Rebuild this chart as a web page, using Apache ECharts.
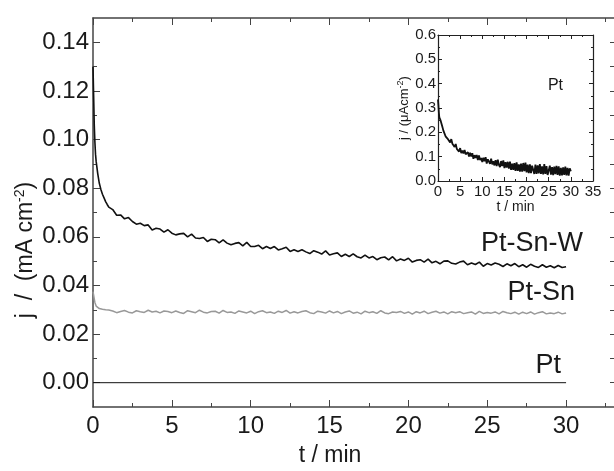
<!DOCTYPE html>
<html>
<head>
<meta charset="utf-8">
<script src="https://cdn.jsdelivr.net/npm/echarts@6/dist/echarts.min.js"></script>
<style>
html,body{margin:0;padding:0;background:#fff;}
#chart{width:614px;height:471px;}
</style>
</head>
<body>
<div id="chart"></div>
<script>
// ---------- data ----------
var tEarly = [0,0.04,0.08,0.12,0.16,0.2,0.3,0.4,0.5,0.6,0.7,0.8,0.9,1.0];
var tLate = [1.25,1.5,1.75,2,2.25,2.5,2.75,3,3.25,3.5,3.75,4,4.25,4.5,4.75,5,
  5.25,5.5,5.75,6,6.25,6.5,6.75,7,7.25,7.5,7.75,8,8.25,8.5,8.75,9,
  9.25,9.5,9.75,10,10.25,10.5,10.75,11,11.25,11.5,11.75,12,12.25,12.5,12.75,13,
  13.25,13.5,13.75,14,14.25,14.5,14.75,15,15.25,15.5,15.75,16,16.25,16.5,16.75,17,
  17.25,17.5,17.75,18,18.25,18.5,18.75,19,19.25,19.5,19.75,20,20.25,20.5,20.75,21,
  21.25,21.5,21.75,22,22.25,22.5,22.75,23,23.25,23.5,23.75,24,24.25,24.5,24.75,25,
  25.25,25.5,25.75,26,26.25,26.5,26.75,27,27.25,27.5,27.75,28,28.25,28.5,28.75,29,
  29.25,29.5,29.75,30];

var jPtSnW_early = [0.130,0.118,0.106,0.099,0.094,0.091,0.086,0.082,0.0795,0.0775,0.076,0.0745,0.0733,0.0722];
var jPtSnW_late = [
  0.0712,0.0689,0.0690,0.0674,0.0679,0.0663,0.0652,0.0656,
  0.0646,0.0649,0.0628,0.0635,0.0632,0.0619,0.0629,0.0615,
  0.0608,0.0612,0.0614,0.0600,0.0611,0.0595,0.0593,0.0597,
  0.0581,0.0590,0.0588,0.0575,0.0587,0.0574,0.0567,0.0573,
  0.0576,0.0563,0.0577,0.0560,0.0560,0.0565,0.0551,0.0560,
  0.0552,0.0560,0.0546,0.0551,0.0557,0.0540,0.0547,0.0540,
  0.0547,0.0538,0.0531,0.0543,0.0537,0.0529,0.0542,0.0525,
  0.0530,0.0534,0.0519,0.0528,0.0519,0.0530,0.0518,0.0513,
  0.0525,0.0513,0.0519,0.0506,0.0514,0.0517,0.0505,0.0518,
  0.0501,0.0509,0.0503,0.0512,0.0496,0.0503,0.0506,0.0496,
  0.0508,0.0493,0.0499,0.0489,0.0500,0.0501,0.0491,0.0488,
  0.0496,0.0500,0.0485,0.0492,0.0486,0.0496,0.0479,0.0490,
  0.0484,0.0492,0.0487,0.0478,0.0489,0.0481,0.0490,0.0477,
  0.0485,0.0475,0.0487,0.0479,0.0474,0.0485,0.0475,0.0481,
  0.0473,0.0482,0.0474,0.0477];

var jPtSn_early = [0.0375,0.036,0.0345,0.033,0.0322,0.0315,0.031,0.0305,0.0312,0.0302,0.0298,0.030,0.0296,0.0299];
var jPtSn_late = [
  0.0295,0.0288,0.0293,0.0297,0.0290,0.0287,0.0296,0.0292,
  0.0289,0.0298,0.0291,0.0294,0.0287,0.0295,0.0293,0.0288,
  0.0295,0.0289,0.0285,0.0296,0.0292,0.0288,0.0298,0.0290,
  0.0287,0.0293,0.0294,0.0286,0.0297,0.0289,0.0291,0.0285,
  0.0295,0.0291,0.0287,0.0294,0.0284,0.0292,0.0296,0.0288,
  0.0291,0.0285,0.0294,0.0289,0.0297,0.0286,0.0292,0.0287,
  0.0293,0.0296,0.0288,0.0284,0.0294,0.0291,0.0286,0.0295,
  0.0287,0.0293,0.0284,0.0291,0.0295,0.0286,0.0290,0.0283,
  0.0294,0.0288,0.0292,0.0285,0.0296,0.0287,0.0284,0.0291,
  0.0289,0.0293,0.0285,0.0291,0.0282,0.0292,0.0287,0.0294,
  0.0284,0.0290,0.0294,0.0286,0.0291,0.0283,0.0292,0.0288,
  0.0292,0.0284,0.0288,0.0291,0.0282,0.0293,0.0285,0.0289,
  0.0286,0.0291,0.0283,0.0293,0.0288,0.0284,0.0290,0.0282,
  0.0290,0.0284,0.0291,0.0282,0.0288,0.0292,0.0283,0.0287,
  0.0284,0.0290,0.0283,0.0287];

var tPt = [0,30];
var jPt = [0,0];

// inset (Pt, µA cm^-2)
var tInset = [0,0.1,0.2,0.3,0.4,0.6,0.8,1.0,1.2,
  1.5,1.75,2,2.25,2.5,2.75,3,3.25,3.5,3.75,4,4.25,4.5,4.75,5,5.25,5.5,5.75,
  6,6.25,6.5,6.75,7,7.25,7.5,7.75,8,8.25,8.5,8.75,9,9.25,9.5,9.75,
  10,10.25,10.5,10.75,11,11.25,11.5,11.75,12,12.25,12.5,12.75,13,13.25,13.5,13.75,
  14,14.25,14.5,14.75,15,15.25,15.5,15.75,16,16.25,16.5,16.75,17,17.25,17.5,17.75,
  18,18.25,18.5,18.75,19,19.25,19.5,19.75,20,20.25,20.5,20.75,21,21.25,21.5,21.75,
  22,22.25,22.5,22.75,23,23.25,23.5,23.75,24,24.25,24.5,24.75,25,25.25,25.5,25.75,
  26,26.25,26.5,26.75,27,27.25,27.5,27.75,28,28.25,28.5,28.75,29,29.25,29.5,29.75,30];
var jInset = [0.335,0.31,0.28,0.262,0.265,0.248,0.252,0.222,0.208,
  0.201,0.182,
  0.190,0.172,0.175,0.158,
  0.172,0.153,0.158,0.140,
  0.152,0.132,0.139,0.121,
  0.135,0.115,0.125,0.113,
  0.127,0.110,0.104,0.118,
  0.101,0.116,0.101,0.114,
  0.091,0.106,0.095,0.107,
  0.086,0.105,0.086,0.095,
  0.078,0.096,0.081,0.098,
  0.072,0.089,0.091,0.071,
  0.092,0.068,0.081,0.064,
  0.086,0.061,0.088,0.066,
  0.057,0.082,0.061,0.085,
  0.053,0.077,0.055,0.079,
  0.051,0.080,0.046,0.071,
  0.046,0.073,0.042,0.077,
  0.042,0.068,0.039,0.071,
  0.039,0.074,0.041,0.076,
  0.035,0.067,0.032,0.068,
  0.032,0.063,0.067,0.029,
  0.067,0.029,0.064,0.031,
  0.069,0.029,0.060,0.027,
  0.069,0.029,0.061,0.025,
  0.029,0.063,0.026,0.057,
  0.024,0.059,0.028,0.062,
  0.025,0.060,0.022,0.054,
  0.023,0.056,0.025,0.059,
  0.023,0.054,0.022,0.052,
  0.040];

var mainYLabels = [0,0.02,0.04,0.06,0.08,0.10,0.12,0.14];
var mainYMinor = [0.01,0.03,0.05,0.07,0.09,0.11,0.13];
var mainYAll = [0,0.01,0.02,0.03,0.04,0.05,0.06,0.07,0.08,0.09,0.10,0.11,0.12,0.13,0.14];

function pairs(ts, vs){ var o=[]; for(var i=0;i<ts.length;i++) o.push([ts[i], vs[i]]); return o; }

// ---------- chart ----------
var chart = echarts.init(document.getElementById('chart'), null, {renderer:'canvas'});
var FONT = 'Liberation Sans, Arial, sans-serif';
var AX = '#444';
var XMAX = 33.23;

var option = {
  animation: false,
  backgroundColor: '#fff',
  grid: [
    {left: 93, top: 18, width: 524, height: 389, outerBoundsMode: 'none', containLabel: false},
    {left: 438, top: 35, width: 155, height: 146, outerBoundsMode: 'none', containLabel: false}
  ],
  xAxis: [
    {gridIndex:0, type:'value', min:0, max:XMAX, interval:5, position:'bottom',
     axisLine:{show:true, onZero:false, lineStyle:{color:AX, width:1.5}},
     axisTick:{show:true, inside:true, length:7, lineStyle:{color:AX, width:1}},
     minorTick:{show:true, splitNumber:2, length:4, lineStyle:{color:AX, width:1}},
     axisLabel:{show:true, fontSize:24, color:'#1a1a1a', fontFamily:FONT, margin:7,
       formatter:function(v){ return v<=30 ? String(v) : ''; }},
     splitLine:{show:false}, minorSplitLine:{show:false}},
    {gridIndex:0, type:'value', min:0, max:XMAX, interval:5, position:'top',
     axisLine:{show:true, onZero:false, lineStyle:{color:AX, width:1.5}},
     axisTick:{show:true, inside:true, length:7, lineStyle:{color:AX, width:1}},
     minorTick:{show:true, splitNumber:2, length:4, lineStyle:{color:AX, width:1}},
     axisLabel:{show:false}, splitLine:{show:false}},
    {gridIndex:1, type:'value', min:0, max:35, interval:5, position:'bottom',
     name:'t / min', nameLocation:'middle', nameGap:19,
     nameTextStyle:{fontSize:14, color:'#1a1a1a', fontFamily:FONT},
     axisLine:{show:true, onZero:false, lineStyle:{color:'#222', width:1.2}},
     axisTick:{show:true, inside:true, length:4, lineStyle:{color:'#222'}},
     minorTick:{show:true, splitNumber:2, length:2, lineStyle:{color:'#222'}},
     axisLabel:{fontSize:15, color:'#1a1a1a', fontFamily:FONT, margin:3},
     splitLine:{show:false}},
    {gridIndex:1, type:'value', min:0, max:35, interval:5, position:'top',
     axisLine:{show:true, onZero:false, lineStyle:{color:'#222', width:1.2}},
     axisTick:{show:true, inside:true, length:4, lineStyle:{color:'#222'}},
     minorTick:{show:true, splitNumber:2, length:2, lineStyle:{color:'#222'}},
     axisLabel:{show:false}, splitLine:{show:false}}
  ],
  yAxis: [
    {gridIndex:0, type:'value', min:-0.01, max:0.15, interval:0.01, position:'left',
     axisLine:{show:true, onZero:false, lineStyle:{color:AX, width:1.5}},
     axisTick:{show:true, inside:true, length:7, customValues: mainYLabels, lineStyle:{color:AX}},
     axisLabel:{show:true, customValues: mainYLabels, fontSize:24, color:'#1a1a1a', fontFamily:FONT, margin:4,
       formatter:function(v){ return v.toFixed(2); }},
     splitLine:{show:false}},
    {gridIndex:0, type:'value', min:-0.01, max:0.15, interval:0.01, position:'left',
     axisLine:{show:false},
     axisTick:{show:true, inside:true, length:4, customValues: mainYMinor, lineStyle:{color:AX}},
     axisLabel:{show:false}, splitLine:{show:false}},
    {gridIndex:0, type:'value', min:-0.01, max:0.15, interval:0.01, position:'right',
     axisLine:{show:true, onZero:false, lineStyle:{color:AX, width:1.5}},
     axisTick:{show:true, inside:true, length:7, customValues: mainYAll, lineStyle:{color:AX}},
     axisLabel:{show:false}, splitLine:{show:false}},
    {gridIndex:1, type:'value', min:0, max:0.6, interval:0.1, position:'left',
     name:'j / (μAcm{s|-2})', nameLocation:'middle', nameGap:26, nameRotate:90,
     nameTextStyle:{fontSize:13, color:'#1a1a1a', fontFamily:FONT,
       rich:{s:{fontSize:9, fontFamily:FONT, color:'#1a1a1a', padding:[0,0,7,0]}}},
     axisLine:{show:true, onZero:false, lineStyle:{color:'#222', width:1.2}},
     axisTick:{show:true, inside:true, length:4, lineStyle:{color:'#222'}},
     minorTick:{show:true, splitNumber:2, length:2, lineStyle:{color:'#222'}},
     axisLabel:{fontSize:15, color:'#1a1a1a', fontFamily:FONT, margin:2,
       formatter:function(v){ return v.toFixed(1); }},
     splitLine:{show:false}},
    {gridIndex:1, type:'value', min:0, max:0.6, interval:0.1, position:'right',
     axisLine:{show:true, onZero:false, lineStyle:{color:'#222', width:1.2}},
     axisTick:{show:true, inside:true, length:4, lineStyle:{color:'#222'}},
     minorTick:{show:true, splitNumber:2, length:2, lineStyle:{color:'#222'}},
     axisLabel:{show:false}, splitLine:{show:false}}
  ],
  graphic: [
    {type:'text', x:26, y:250, rotation:Math.PI/2,
     style:{text:'j  /  (mA cm{s|-2})', fontSize:23, fontFamily:FONT, fill:'#1a1a1a',
       align:'center', verticalAlign:'middle',
       rich:{s:{fontSize:14, fontFamily:FONT, fill:'#1a1a1a', padding:[0,0,12,0]}}}},
    {type:'text', x:330, y:456,
     style:{text:'t / min', fontSize:23, fontFamily:FONT, fill:'#1a1a1a', align:'center', verticalAlign:'middle'}},
    {type:'text', x:583, y:244,
     style:{text:'Pt-Sn-W', fontSize:27, fontFamily:FONT, fill:'#1a1a1a', align:'right', verticalAlign:'middle'}},
    {type:'text', x:575, y:293,
     style:{text:'Pt-Sn', fontSize:27, fontFamily:FONT, fill:'#1a1a1a', align:'right', verticalAlign:'middle'}},
    {type:'text', x:561, y:366,
     style:{text:'Pt', fontSize:27, fontFamily:FONT, fill:'#1a1a1a', align:'right', verticalAlign:'middle'}},
    {type:'text', x:563, y:86,
     style:{text:'Pt', fontSize:16, fontFamily:FONT, fill:'#1a1a1a', align:'right', verticalAlign:'middle'}}
  ],
  series: [
    {name:'Pt-Sn', type:'line', xAxisIndex:0, yAxisIndex:0, showSymbol:false, symbol:'none',
     data: pairs(tEarly, jPtSn_early).concat(pairs(tLate, jPtSn_late)),
     lineStyle:{color:'#999', width:1.5}},
    {name:'Pt-Sn-W', type:'line', xAxisIndex:0, yAxisIndex:0, showSymbol:false, symbol:'none',
     data: pairs(tEarly, jPtSnW_early).concat(pairs(tLate, jPtSnW_late)),
     lineStyle:{color:'#111', width:1.6}},
    {name:'Pt', type:'line', xAxisIndex:0, yAxisIndex:0, showSymbol:false, symbol:'none',
     data: pairs(tPt, jPt), lineStyle:{color:'#111', width:1}},
    {name:'Pt inset', type:'line', xAxisIndex:2, yAxisIndex:3, showSymbol:false, symbol:'none',
     data: pairs(tInset, jInset), lineStyle:{color:'#111', width:1.8}}
  ]
};
chart.setOption(option);
</script>
</body>
</html>
